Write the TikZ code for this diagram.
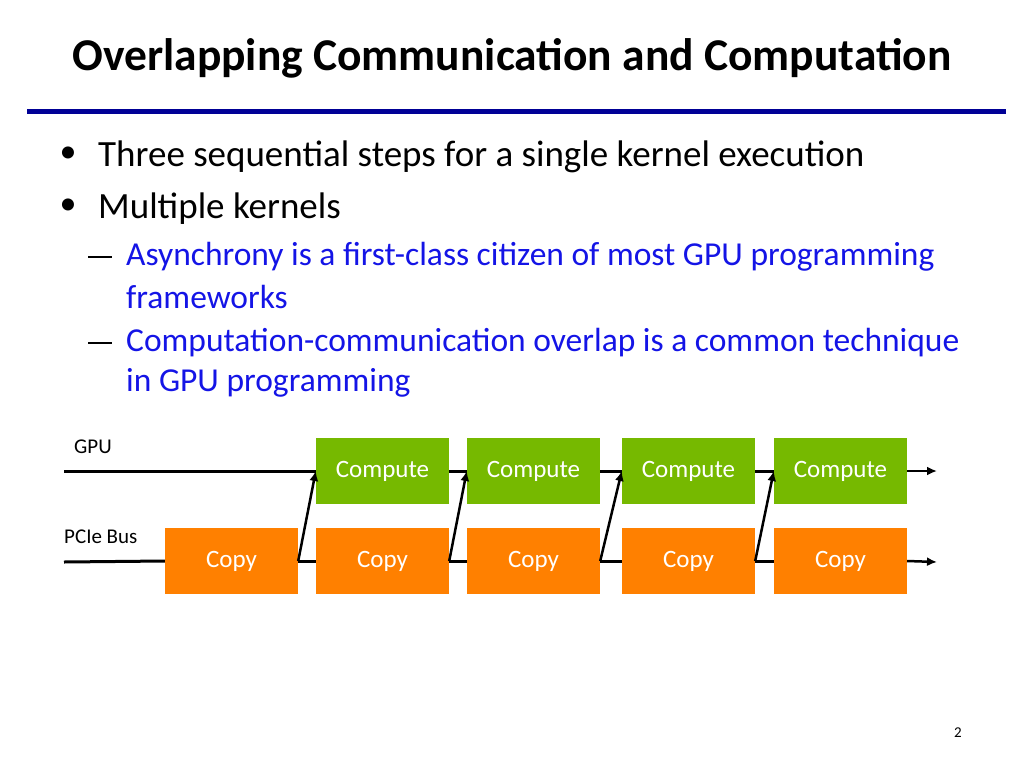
\documentclass[tikz,border=0pt]{standalone}
\usepackage{fontspec}
\setmainfont{Carlito}
\begin{document}
\begin{tikzpicture}[x=1pt,y=-1pt,
  cmp/.style={fill=cgreen, text=white, minimum width=133pt, minimum height=66pt, inner sep=0pt, font=\fontsize{25}{28}\selectfont},
  cpy/.style={fill=corange, text=white, minimum width=133pt, minimum height=66pt, inner sep=0pt, font=\fontsize{25}{28}\selectfont},
  ln/.style={line width=3pt},
  arr/.style={line width=2.5pt,-{Latex[length=10pt,width=9pt]}},
  body/.style={anchor=west, font=\fontsize{37}{42}\selectfont, inner sep=0pt},
  sub/.style={anchor=west, font=\fontsize{33.5}{38}\selectfont, inner sep=0pt, text=cblue}]
\usetikzlibrary{arrows.meta}
\definecolor{cgreen}{RGB}{118,185,0}
\definecolor{corange}{RGB}{255,128,0}
\definecolor{cblue}{RGB}{20,20,230}
\definecolor{cnavy}{RGB}{0,0,150}
\useasboundingbox (0,0) rectangle (1024,768);
\node[font=\bfseries\fontsize{45.5}{50}\selectfont] (title) at (512,58) {Overlapping Communication and Computation};
\draw[cnavy, line width=5pt] (27,111) -- (1006,111);
\node[font=\fontsize{34}{34}\selectfont] (b1) at (68,155) {•};
\node[body] (t1) at (98,157) {Three sequential steps for a single kernel execution};
\node[font=\fontsize{34}{34}\selectfont] (b2) at (68,207) {•};
\node[body] (t2) at (98,209) {Multiple kernels};
\draw[line width=1.5pt] (88,257) -- (112,257);
\node[sub] (s1) at (126,257) {Asynchrony is a first-class citizen of most GPU programming};
\node[sub] (s1b) at (126,297) {frameworks};
\draw[line width=1.5pt] (88,343) -- (112,343);
\node[sub] (s2) at (126,343) {Computation-communication overlap is a common technique};
\node[sub] (s2b) at (126,383) {in GPU programming};
\node[anchor=west,font=\fontsize{21}{24}\selectfont,inner sep=0pt] (lg) at (74,447) {GPU};
\node[anchor=west,font=\fontsize{21}{24}\selectfont,inner sep=0pt] (lp) at (64,537) {PCIe Bus};
\foreach \i/\x in {1/231.5,2/382.5,3/533.5,4/688.5,5/840.5}
  \node[cpy] (p\i) at (\x,561) {Copy};
\foreach \i/\x in {2/382.5,3/533.5,4/688.5,5/840.5}
  \node[cmp] (c\i) at (\x,471) {Compute};
\coordinate (gs) at (64,471);
\coordinate (ge) at (937,471);
\coordinate (bs) at (64,562);
\coordinate (be) at (937,562);
\draw[ln] (gs) -- (c2.west);
\draw[ln] (c2.east) -- (c3.west);
\draw[ln] (c3.east) -- (c4.west);
\draw[ln] (c4.east) -- (c5.west);
\draw[arr] (c5.east) -- (ge);
\draw[ln] (bs) -- (p1.west);
\draw[ln] (p1.east) -- (p2.west);
\draw[ln] (p2.east) -- (p3.west);
\draw[ln] (p3.east) -- (p4.west);
\draw[ln] (p4.east) -- (p5.west);
\draw[arr] (p5.east) -- (be);
\draw[arr] (p1.east) -- (c2.west);
\draw[arr] (p2.east) -- (c3.west);
\draw[arr] (p3.east) -- (c4.west);
\draw[arr] (p4.east) -- (c5.west);
\node[font=\fontsize{15}{18}\selectfont] (pg) at (958,733) {2};
\end{tikzpicture}
\end{document}
